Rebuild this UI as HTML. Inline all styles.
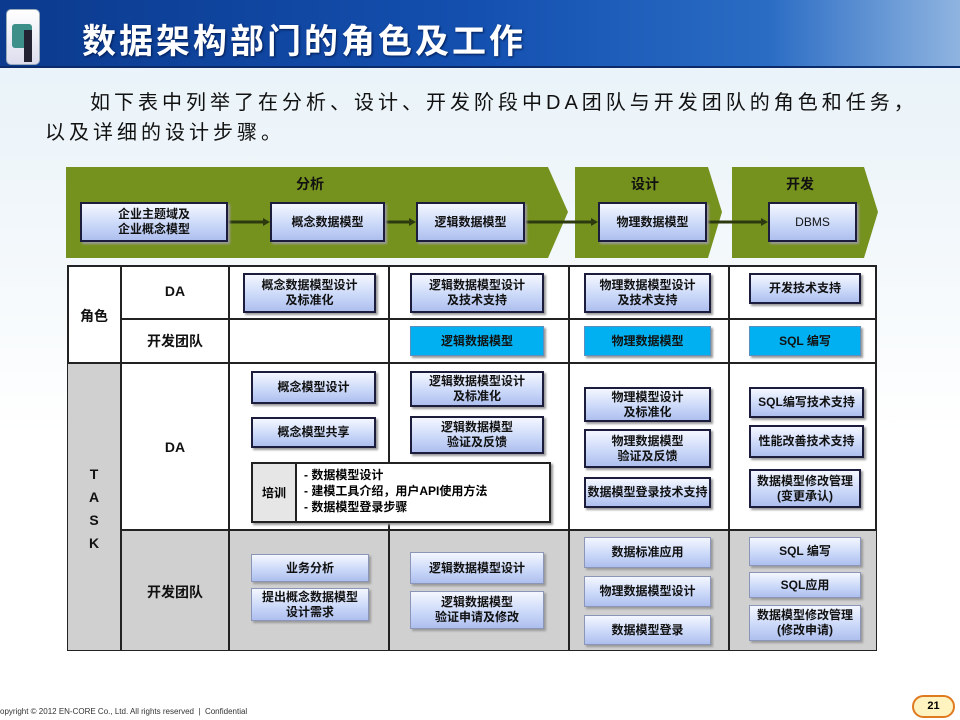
<!DOCTYPE html>
<html><head><meta charset="utf-8"><style>
*{margin:0;padding:0;box-sizing:border-box}
body{width:960px;height:720px;position:relative;overflow:hidden;font-family:"Liberation Sans","Noto Sans CJK SC",sans-serif;background:linear-gradient(180deg,#e6f1f8 0%,#f3f8fb 35%,#ffffff 60%,#ffffff 100%)}
.a{position:absolute}
.hdr{left:0;top:0;width:960px;height:68px;background:linear-gradient(90deg,#0b3a8e 0%,#1450b0 50%,#2a6cc4 80%,#8fb4e0 100%);border-bottom:2px solid #0a2a6a}
.title{left:82px;top:14px;color:#fff;font-size:34px;font-weight:bold;letter-spacing:3px;text-shadow:1px 1px 2px #001a50;white-space:nowrap}
.icon{left:6px;top:9px;width:34px;height:56px;background:linear-gradient(#fff,#dde);border-radius:5px;border:1px solid #9ab}
.intro{font-size:20px;letter-spacing:4px;color:#111;white-space:nowrap}
.box{position:absolute;border:2px solid #1c1c3c;background:linear-gradient(180deg,#f4f7ff 0%,#c8d6f8 60%,#aebfee 100%);box-shadow:2px 2px 2px #9a9a9a;display:flex;align-items:center;justify-content:center;text-align:center;font-size:12px;font-weight:bold;line-height:15px;color:#111}
.lt{border:1px solid #8a95b8}
.cy{background:#00b0f0;border:1px solid #5a8fc0}
.lbl{position:absolute;font-weight:bold;font-size:14px;color:#111;text-align:center}
</style></head><body>
<div class="a hdr"></div>
<div class="a icon"><div class="a" style="left:5px;top:14px;width:20px;height:24px;background:#3d8f8a;border-radius:3px"></div><div class="a" style="left:17px;top:20px;width:8px;height:32px;background:#223"></div></div>
<div class="a title">数据架构部门的角色及工作</div>
<div class="a intro" style="left:90px;top:86px">如下表中列举了在分析、设计、开发阶段中DA团队与开发团队的角色和任务，</div>
<div class="a intro" style="left:45px;top:116px">以及详细的设计步骤。</div>

<svg class="a" style="left:0;top:0" width="960" height="720">
<polygon points="66,167 548,167 568,212 548,258 66,258" fill="#76921e"/>
<polygon points="575,167 708,167 722,212 708,258 575,258" fill="#76921e"/>
<polygon points="732,167 864,167 878,212 864,258 732,258" fill="#76921e"/>
<g stroke="#2d3a10" stroke-width="3">
<line x1="228" y1="222" x2="266" y2="222"/><line x1="385" y1="222" x2="412" y2="222"/><line x1="525" y1="222" x2="594" y2="222"/><line x1="707" y1="222" x2="764" y2="222"/></g>
<g fill="#2d3a10"><polygon points="270,222 263,218 263,226"/><polygon points="416,222 409,218 409,226"/><polygon points="598,222 591,218 591,226"/><polygon points="768,222 761,218 761,226"/></g>
</svg>
<div class="lbl" style="left:280px;top:174px;width:60px">分析</div>
<div class="lbl" style="left:615px;top:174px;width:60px">设计</div>
<div class="lbl" style="left:770px;top:174px;width:60px">开发</div>
<div class="box" style="left:80px;top:202px;width:148px;height:40px">企业主题域及<br>企业概念模型</div>
<div class="box" style="left:270px;top:202px;width:115px;height:40px">概念数据模型</div>
<div class="box" style="left:416px;top:202px;width:109px;height:40px">逻辑数据模型</div>
<div class="box" style="left:598px;top:202px;width:109px;height:40px">物理数据模型</div>
<div class="box" style="left:768px;top:202px;width:89px;height:40px;font-weight:normal">DBMS</div>

<div class="a" style="left:67px;top:265px;width:810px;height:386px;background:#fff;border:2px solid #222"></div>
<div class="a" style="left:68px;top:363px;width:53px;height:287px;background:#d0d0d0"></div>
<div class="a" style="left:121px;top:530px;width:755px;height:120px;background:#d0d0d0"></div>
<svg class="a" style="left:0;top:0" width="960" height="720"><g stroke="#222" stroke-width="2">
<line x1="121" y1="265" x2="121" y2="651"/><line x1="229" y1="265" x2="229" y2="651"/><line x1="389" y1="265" x2="389" y2="462"/><line x1="389" y1="523" x2="389" y2="651"/><line x1="569" y1="265" x2="569" y2="651"/><line x1="729" y1="265" x2="729" y2="651"/>
<line x1="121" y1="319" x2="877" y2="319"/><line x1="67" y1="363" x2="877" y2="363"/><line x1="121" y1="530" x2="877" y2="530"/></g></svg>
<div class="lbl" style="left:67px;top:306px;width:54px">角色</div>
<div class="lbl" style="left:121px;top:283px;width:108px">DA</div>
<div class="lbl" style="left:121px;top:331px;width:108px">开发团队</div>
<div class="lbl" style="left:121px;top:439px;width:108px">DA</div>
<div class="lbl" style="left:121px;top:582px;width:108px">开发团队</div>
<div class="lbl" style="left:67px;top:463px;width:54px;line-height:23px">T<br>A<br>S<br>K</div>

<div class="box" style="left:243px;top:273px;width:133px;height:40px">概念数据模型设计<br>及标准化</div>
<div class="box" style="left:410px;top:273px;width:134px;height:40px">逻辑数据模型设计<br>及技术支持</div>
<div class="box" style="left:584px;top:273px;width:127px;height:40px">物理数据模型设计<br>及技术支持</div>
<div class="box" style="left:749px;top:273px;width:112px;height:31px">开发技术支持</div>
<div class="box cy" style="left:410px;top:326px;width:134px;height:30px">逻辑数据模型</div>
<div class="box cy" style="left:584px;top:326px;width:127px;height:30px">物理数据模型</div>
<div class="box cy" style="left:749px;top:326px;width:112px;height:30px">SQL 编写</div>

<div class="box" style="left:251px;top:371px;width:125px;height:33px">概念模型设计</div>
<div class="box" style="left:251px;top:417px;width:125px;height:31px">概念模型共享</div>
<div class="box" style="left:410px;top:371px;width:134px;height:36px">逻辑数据模型设计<br>及标准化</div>
<div class="box" style="left:410px;top:416px;width:134px;height:38px">逻辑数据模型<br>验证及反馈</div>
<div class="a" style="left:251px;top:462px;width:300px;height:61px;background:#fff;border:2px solid #222;box-shadow:2px 2px 2px #999"></div>
<div class="a" style="left:253px;top:464px;width:44px;height:57px;background:#e6e6e6;border-right:2px solid #222;font-size:12px;font-weight:bold;display:flex;align-items:center;justify-content:center">培训</div>
<div class="a" style="left:304px;top:467px;font-size:12px;font-weight:bold;line-height:16px">- 数据模型设计<br>- 建模工具介绍，用户API使用方法<br>- 数据模型登录步骤</div>
<div class="box" style="left:584px;top:387px;width:127px;height:35px">物理模型设计<br>及标准化</div>
<div class="box" style="left:584px;top:429px;width:127px;height:39px">物理数据模型<br>验证及反馈</div>
<div class="box" style="left:584px;top:477px;width:127px;height:31px;white-space:nowrap">数据模型登录技术支持</div>
<div class="box" style="left:749px;top:387px;width:115px;height:31px">SQL编写技术支持</div>
<div class="box" style="left:749px;top:425px;width:115px;height:33px">性能改善技术支持</div>
<div class="box" style="left:749px;top:469px;width:112px;height:39px">数据模型修改管理<br>(变更承认)</div>

<div class="box lt" style="left:251px;top:554px;width:118px;height:28px">业务分析</div>
<div class="box lt" style="left:251px;top:588px;width:118px;height:33px">提出概念数据模型<br>设计需求</div>
<div class="box lt" style="left:410px;top:552px;width:134px;height:32px">逻辑数据模型设计</div>
<div class="box lt" style="left:410px;top:591px;width:134px;height:38px">逻辑数据模型<br>验证申请及修改</div>
<div class="box lt" style="left:584px;top:537px;width:127px;height:31px">数据标准应用</div>
<div class="box lt" style="left:584px;top:576px;width:127px;height:31px">物理数据模型设计</div>
<div class="box lt" style="left:584px;top:615px;width:127px;height:30px">数据模型登录</div>
<div class="box lt" style="left:749px;top:537px;width:112px;height:29px">SQL 编写</div>
<div class="box lt" style="left:749px;top:572px;width:112px;height:26px">SQL应用</div>
<div class="box lt" style="left:749px;top:605px;width:112px;height:36px">数据模型修改管理<br>(修改申请)</div>

<div class="a" style="left:0;top:707px;font-size:8px;color:#333;white-space:nowrap">opyright © 2012 EN-CORE Co., Ltd. All rights reserved &nbsp;|&nbsp; Confidential</div>
<div class="a" style="left:912px;top:695px;width:43px;height:23px;border:2px solid #e07a20;border-radius:12px;background:#fff4c0;font-size:11px;font-weight:bold;text-align:center;line-height:19px">21</div>
</body></html>
